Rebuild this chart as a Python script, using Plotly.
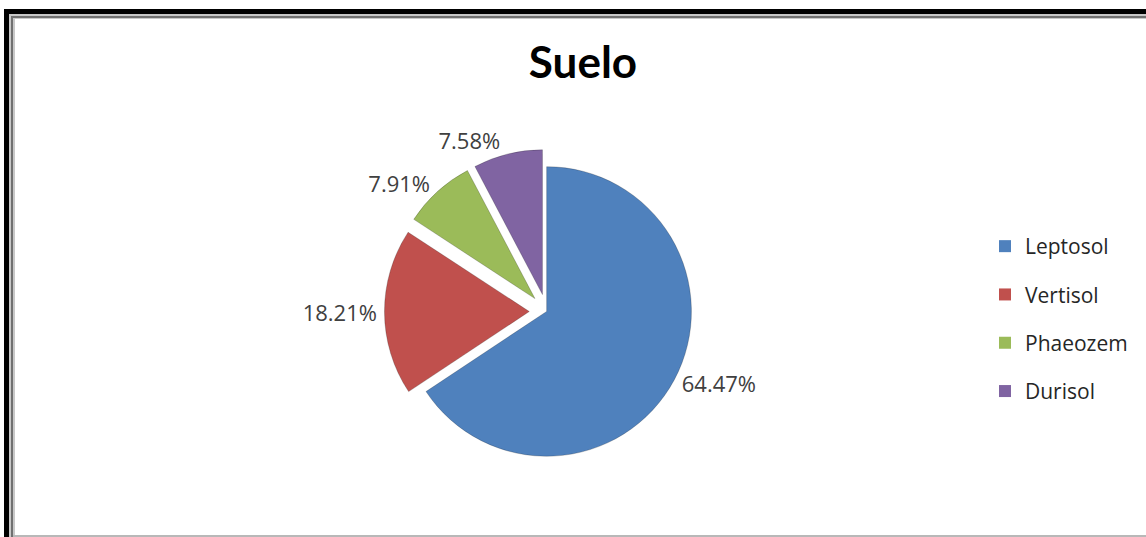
import plotly.graph_objects as go

categories = ["Leptosol", "Vertisol", "Phaeozem", "Durisol"]
values = [64.47, 18.21, 7.91, 7.58]
colors = ["#4F81BD", "#C0504D", "#9BBB59", "#8064A2"]
pulls = [0, 0.12, 0.12, 0.12]
labels_text = [f"{v:.2f}%" for v in values]

W, H = 1146, 537
FONT = "Open Sans, Lato, sans-serif"

fig = go.Figure()
fig.add_trace(go.Pie(
    labels=categories, values=values, sort=False, direction="clockwise", rotation=0,
    marker=dict(colors=colors, line=dict(color="rgba(0,0,0,0.2)", width=1)),
    pull=pulls, text=labels_text, textinfo="text", textposition="outside",
    textfont=dict(family=FONT, size=22, color="#404040"),
    domain=dict(x=[0.217, 0.737], y=[0.118, 0.722]),
    showlegend=False, hoverinfo="label+text",
))

# Legend entries (one group per category for spacing)
for c, col in zip(categories, colors):
    fig.add_trace(go.Scatter(
        x=[None], y=[None], mode="markers", name=c, legendgroup=c,
        marker=dict(symbol="square", size=12, color=col),
    ))

def px(x):
    return x / W

def py(y):
    return 1 - y / H

def band(x0, x1, y0, y1, color):
    return dict(type="rect", xref="paper", yref="paper",
                x0=px(x0), x1=px(x1), y0=py(y1), y1=py(y0),
                fillcolor=color, line=dict(width=0), layer="above")

shapes = [
    # outer black frame (top and left)
    band(4, W, 9, 14, "black"),
    band(4, 9, 9, H, "black"),
    # gray inner lines
    band(9, W, 14, 16, "#c8c8c8"),
    band(11, W, 16, 18, "#707070"),
    band(13, W, 18, 19, "#c8c8c8"),
    band(9, 11, 14, H, "#c8c8c8"),
    band(11, 13, 16, H, "#707070"),
    band(13, 15, 18, H, "#c8c8c8"),
    band(13, W, 535, 537, "#b8b8b8"),
]

fig.update_layout(
    width=W, height=H,
    margin=dict(l=0, r=0, t=0, b=0, autoexpand=False),
    paper_bgcolor="white", plot_bgcolor="white",
    title=dict(text="<b>Suelo</b>", x=583 / W, xanchor="center", y=py(63), yanchor="middle",
               font=dict(family="Lato, Open Sans, sans-serif", size=44, color="black")),
    xaxis=dict(visible=False), yaxis=dict(visible=False),
    legend=dict(x=px(985), y=py(226), xanchor="left", yanchor="top",
                font=dict(family=FONT, size=21, color="#262626"),
                tracegroupgap=18, itemwidth=30, bgcolor="rgba(0,0,0,0)"),
    shapes=shapes,
)

fig.write_html("out.html", config={"displayModeBar": False},
               post_script="document.body.style.margin='0';document.body.style.overflow='hidden';")
